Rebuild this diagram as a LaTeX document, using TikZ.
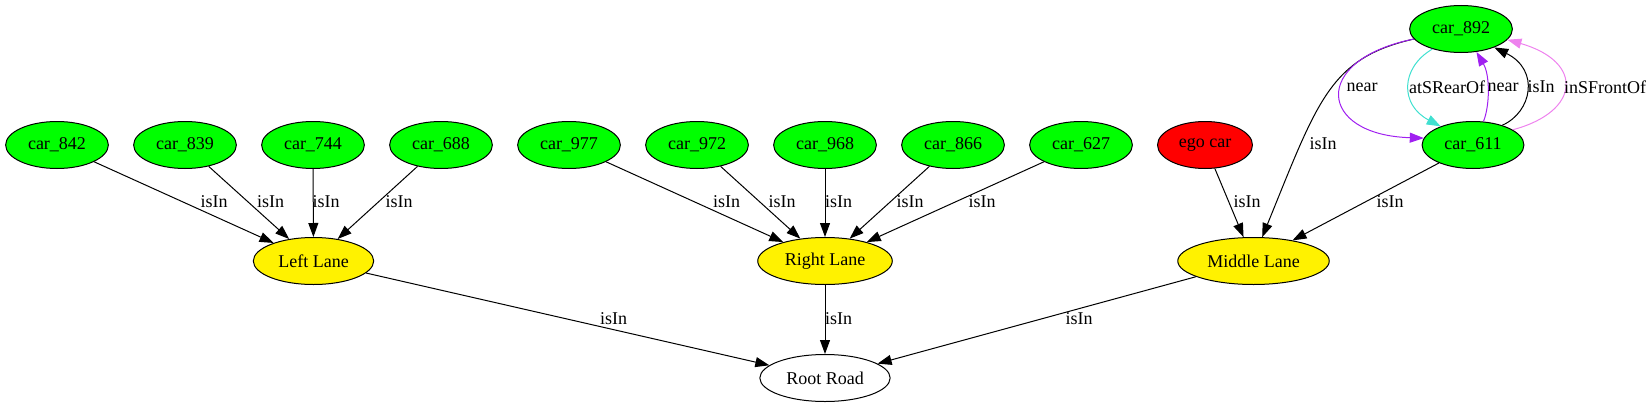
\documentclass[tikz,border=0pt]{standalone}
\usepackage{fontspec}
\setmainfont{Liberation Serif}
\usetikzlibrary{shapes,arrows.meta}
\definecolor{gvpurple}{HTML}{A020F0}
\definecolor{gvturquoise}{HTML}{40E0D0}
\definecolor{gvviolet}{HTML}{EE82EE}
\tikzset{
  vtx/.style={ellipse, draw, line width=0.75pt, inner xsep=5.5pt, inner ysep=0pt,
    minimum height=35.25pt, font=\fontsize{13.5}{16}\selectfont},
  car/.style={vtx, fill=green},
  lane/.style={vtx, fill=yellow},
  rel/.style={line width=0.75pt, -{Triangle[length=10.5pt,width=7.5pt]}},
  lbl/.style={text=black, inner sep=0pt, font=\fontsize{13.5}{16}\selectfont}
}
\begin{document}
\begin{tikzpicture}[x=0.75pt, y=-0.75pt]
   \useasboundingbox (0,0) rectangle (1652,407);
   \node[car] (c842) at (57,145) {car\_842};
   \node[car] (c839) at (185,145) {car\_839};
   \node[car] (c744) at (313,145) {car\_744};
   \node[car] (c688) at (441,145) {car\_688};
   \node[car] (c977) at (569,145) {car\_977};
   \node[car] (c972) at (697,145) {car\_972};
   \node[car] (c968) at (825,145) {car\_968};
   \node[car] (c866) at (953,145) {car\_866};
   \node[car] (c627) at (1081,145) {car\_627};
   \node[vtx, fill=red] (ego) at (1205,145) {ego car};
   \node[car] (c892) at (1461,29) {car\_892};
   \node[car] (c611) at (1473,145) {car\_611};
   \node[lane] (leftlane) at (313.5,261) {Left Lane};
   \node[lane] (rightlane) at (825,261) {Right Lane};
   \node[lane] (midlane) at (1253.5,261) {Middle Lane};
   \node[vtx] (road) at (825,378) {Root Road};

   \draw[rel] (c842) -- (leftlane) node[lbl] at (214,202) {isIn};
   \draw[rel] (c839) -- (leftlane) node[lbl] at (270.5,202) {isIn};
   \draw[rel] (c744) -- (leftlane) node[lbl] at (326,202) {isIn};
   \draw[rel] (c688) -- (leftlane) node[lbl] at (399,202) {isIn};
   \draw[rel] (c977) -- (rightlane) node[lbl] at (726.5,202) {isIn};
   \draw[rel] (c972) -- (rightlane) node[lbl] at (782,202) {isIn};
   \draw[rel] (c968) -- (rightlane) node[lbl] at (838.5,202) {isIn};
   \draw[rel] (c866) -- (rightlane) node[lbl] at (910,202) {isIn};
   \draw[rel] (c627) -- (rightlane) node[lbl] at (982,202) {isIn};
   \draw[rel] (ego) -- (midlane) node[lbl] at (1247,202) {isIn};
   \draw[rel] (c611) -- (midlane) node[lbl] at (1390,202) {isIn};
   \draw[rel] (c892.192) .. controls (1330,58) and (1318,100) .. (midlane.70)
     node[lbl] at (1323,144) {isIn};
   \draw[rel] (leftlane) -- (road) node[lbl] at (613.5,319) {isIn};
   \draw[rel] (rightlane) -- (road) node[lbl] at (838.5,319) {isIn};
   \draw[rel] (midlane) -- (road) node[lbl] at (1079,319) {isIn};

   \draw[rel, gvpurple] (c892.192) .. controls (1310,60) and (1318,135) .. (c611.172)
     node[lbl] at (1362,87) {near};
   \draw[rel, gvturquoise] (c892.215) .. controls (1400,68) and (1400,105) .. (c611.150)
     node[lbl] at (1447,87) {atSRearOf};
   \draw[rel, gvpurple] (c611.66) .. controls (1490,105) and (1490,75) .. (c892.304)
     node[lbl] at (1503,87) {near};
   \draw[rel] (c611.34) .. controls (1532,112) and (1540,70) .. (c892.331)
     node[lbl] at (1541,87) {isIn};
   \draw[rel, gvviolet] (c611.21) .. controls (1580,112) and (1585,62) .. (c892.347)
     node[lbl] at (1605,87) {inSFrontOf};
\end{tikzpicture}
\end{document}
